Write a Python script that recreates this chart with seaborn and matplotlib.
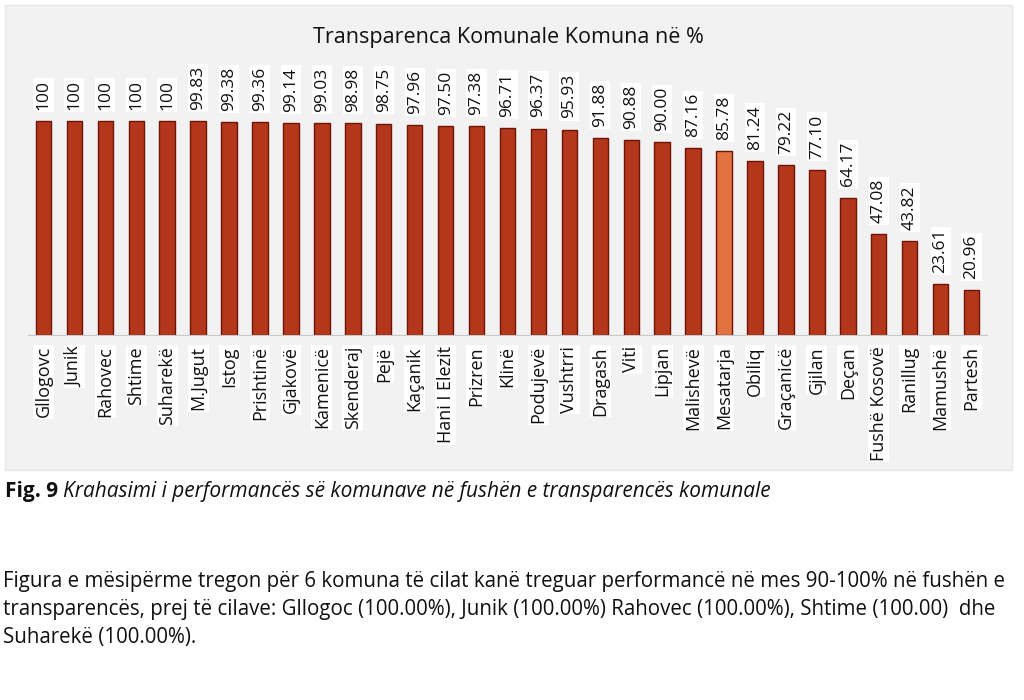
import matplotlib
matplotlib.use("Agg")
import matplotlib.pyplot as plt
from matplotlib.patches import Rectangle
import seaborn as sns


komunat = [
    "Gllogovc", "Junik", "Rahovec", "Shtime", "Suharekë", "M.Jugut", "Istog",
    "Prishtinë", "Gjakovë", "Kamenicë", "Skenderaj", "Pejë", "Kaçanik",
    "Hani I Elezit", "Prizren", "Klinë", "Podujevë", "Vushtrri", "Dragash",
    "Viti", "Lipjan", "Malishevë", "Mesatarja", "Obiliq", "Graçanicë",
    "Gjilan", "Deçan", "Fushë Kosovë", "Ranillug", "Mamushë", "Partesh",
]
transparenca = [
    100, 100, 100, 100, 100, 99.83, 99.38, 99.36, 99.14, 99.03, 98.98, 98.75,
    97.96, 97.50, 97.38, 96.71, 96.37, 95.93, 91.88, 90.88, 90.00, 87.16,
    85.78, 81.24, 79.22, 77.10, 64.17, 47.08, 43.82, 23.61, 20.96,
]
etiketat = ["100" if v == 100 else f"{v:.2f}" for v in transparenca]

ngjyra_bar = "#b5371b"
ngjyra_mesatare = "#e2723f"
ngjyrat = [ngjyra_mesatare if k == "Mesatarja" else ngjyra_bar for k in komunat]

sns.set_style("white")
plt.rcParams["font.family"] = ["Open Sans", "DejaVu Sans"]

fig = plt.figure(figsize=(10.24, 7), dpi=100)
fig.patch.set_facecolor("white")

# gray chart frame
fig.patches.append(Rectangle((5 / 1024, 1 - 470 / 700), 1007 / 1024, 465 / 700,
                             transform=fig.transFigure, facecolor="#f2f2f2",
                             edgecolor="#e6e6e6", linewidth=1, zorder=-10))

ax = fig.add_axes([28 / 1024, 1 - 335 / 700, 959 / 1024, 257 / 700])
ax.set_facecolor("none")

sns.barplot(x=komunat, y=transparenca, hue=komunat, palette=ngjyrat,
            legend=False, width=0.5, saturation=1, edgecolor="#6e1406",
            linewidth=1.0, ax=ax)

ax.set_ylim(0, 120)
ax.set_xlim(-0.5, len(komunat) - 0.5)

for cont, lab in zip(ax.containers, etiketat):
    ax.bar_label(cont, labels=[lab], rotation=90, padding=8, fontsize=12.5,
                 color="#111111",
                 bbox=dict(facecolor="white", edgecolor="none", pad=1.5))

sns.despine(ax=ax, left=True, top=True, right=True, bottom=False)
ax.spines["bottom"].set_color("#c8c8c8")
ax.set_yticks([])
ax.set_xlabel("")
ax.set_ylabel("")
ax.tick_params(axis="x", length=0, pad=8, labelsize=13, labelcolor="#111111")
plt.setp(ax.get_xticklabels(), rotation=90, ha="center", va="top",
         bbox=dict(facecolor="white", edgecolor="none", pad=1))

fig.text(508 / 1024, 1 - 37 / 700, "Transparenca Komunale Komuna në %",
         ha="center", va="center", fontsize=15.5, color="#111111")

# caption
r = fig.canvas.get_renderer()
t1 = fig.text(5 / 1024, 1 - 492 / 700, "Fig. 9", ha="left", va="center",
              fontsize=15, fontweight="bold", color="#111111")
w = t1.get_window_extent(renderer=r).width
fig.text((5 + w + 5) / 1024, 1 - 492 / 700,
         "Krahasimi i performancës së komunave në fushën e transparencës komunale",
         ha="left", va="center", fontsize=15, style="italic", color="#111111")

rreshtat = [
    "Figura e mësipërme tregon për 6 komuna të cilat kanë treguar performancë në mes 90-100% në fushën e",
    "transparencës, prej të cilave: Gllogoc (100.00%), Junik (100.00%) Rahovec (100.00%), Shtime (100.00)  dhe",
    "Suharekë (100.00%).",
]
for i, rr in enumerate(rreshtat):
    fig.text(3 / 1024, 1 - (581 + 28 * i) / 700, rr, ha="left", va="center",
             fontsize=14.8, color="#111111")

fig.savefig("out.png", dpi=100)
